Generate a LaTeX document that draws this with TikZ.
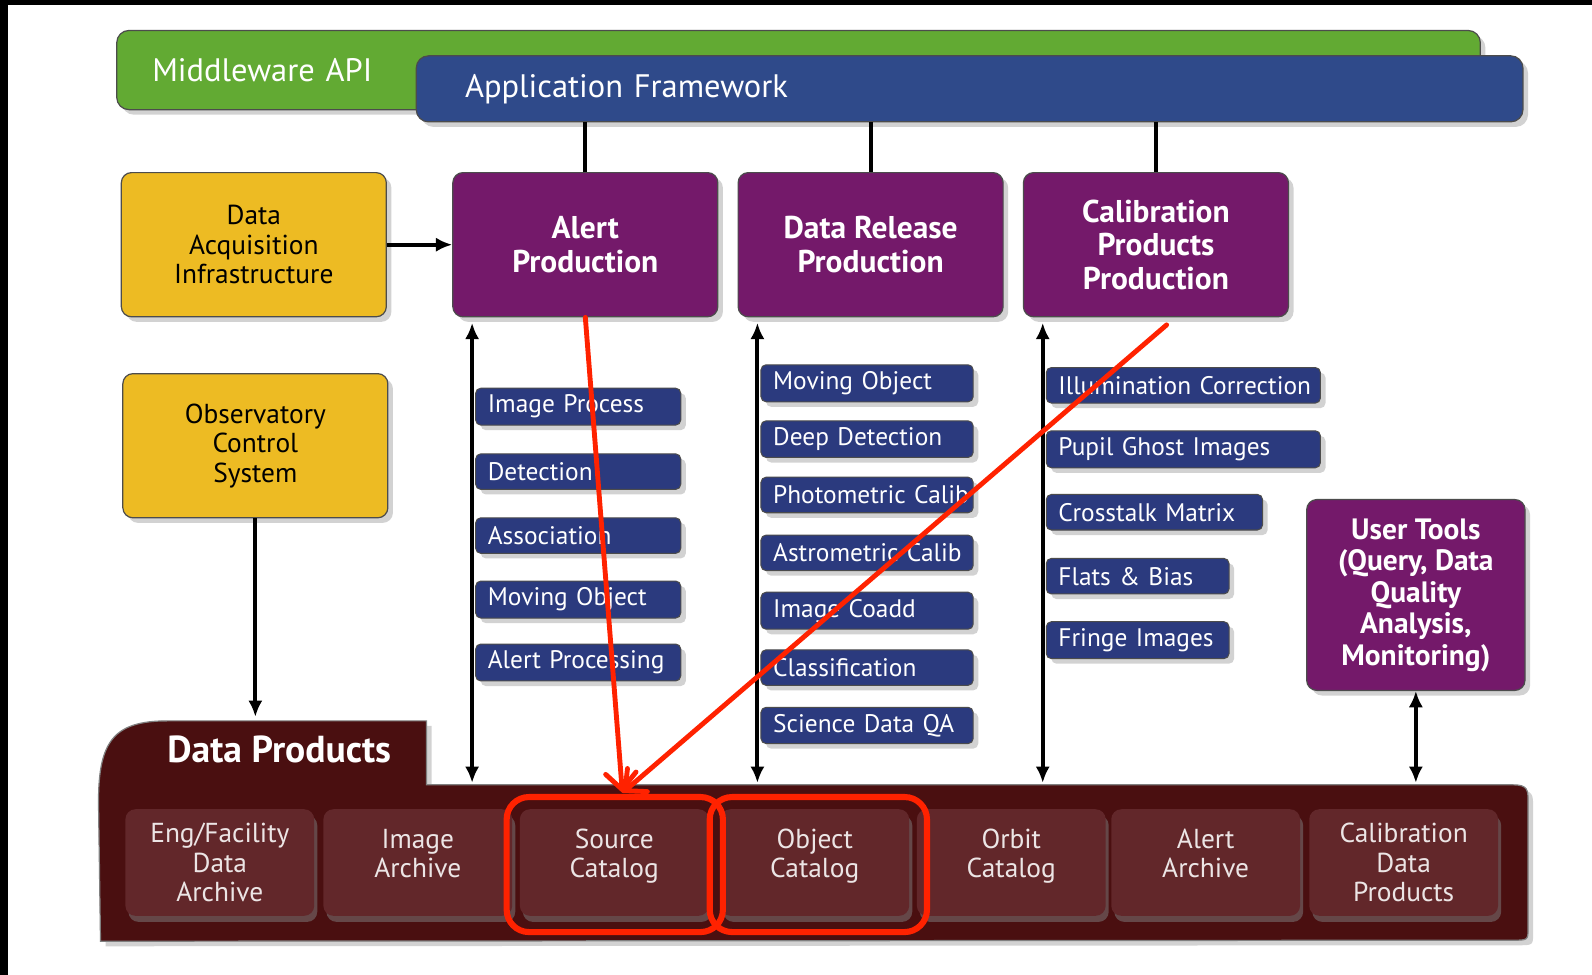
\documentclass[tikz,border=0pt]{standalone}
\usepackage{fontspec}
\setmainfont{PT Sans}
\usetikzlibrary{positioning,arrows.meta,shadows}
\definecolor{mwgreen}{HTML}{62AA33}
\definecolor{fwblue}{HTML}{2F4A8A}
\definecolor{prodpurple}{HTML}{74196A}
\definecolor{infoyellow}{HTML}{EDBB23}
\definecolor{stepblue}{HTML}{2B3A7E}
\definecolor{dpdark}{HTML}{4A0F10}
\definecolor{dpcell}{HTML}{62272A}
\definecolor{markred}{HTML}{FF2200}
\tikzset{
  dropped/.style={drop shadow={opacity=0.35, shadow xshift=2.5pt, shadow yshift=-2.5pt}},
  layer/.style={draw=black!70, line width=0.6pt, rounded corners=6pt, dropped,
    text=white, font=\fontsize{16}{18}\selectfont, align=left, minimum width=0pt
  },
  prod/.style={draw=black!70, line width=0.6pt, fill=prodpurple, rounded corners=5pt,
    dropped, text=white, font=\bfseries\fontsize{15.5}{16.5}\selectfont, align=center,
    minimum width=130.5pt, minimum height=71pt
  },
  infra/.style={prod, fill=infoyellow, text=black, font=\fontsize{13.5}{14.5}\selectfont},
  stepbox/.style={draw=black!70, line width=0.5pt, fill=stepblue, rounded corners=2.5pt,
    dropped, text=white, font=\fontsize{12.5}{13}\selectfont, anchor=west,
    minimum height=17.5pt, inner xsep=6pt, text width=#1, align=left
  },
  catbox/.style={fill=dpcell, rounded corners=5pt,
    drop shadow={opacity=0.5, shadow xshift=1.5pt, shadow yshift=-3pt},
    text=white!88!dpcell, font=\fontsize{13.5}{14.5}\selectfont, align=center,
    minimum width=93pt, minimum height=52.5pt
  },
  lifted/.style={text depth=9pt},
  ring/.style={draw=markred, line width=3pt, rounded corners=11pt},
  link/.style={line width=2pt},
  arrow/.style={-{Latex[length=8pt,width=7pt]}, line width=2pt},
  twoway/.style={{Latex[length=8pt,width=7pt]}-{Latex[length=8pt,width=7pt]}, line width=2pt},
  markline/.style={-{Straight Barb[length=8pt,width=15pt,line cap=round]}, draw=markred,
    line width=2.4pt, line cap=round
  }
}

\begin{document}
\begin{tikzpicture}[x=0.5pt, y=-0.5pt]
 \useasboundingbox (0,0) rectangle (1568,960);
 \fill[white] (0,0) rectangle (1568,960);
 \fill[black] (0,0) rectangle (1568,5);
 \fill[black] (0,0) rectangle (8,960);

 % framework layers
 \node[layer, fill=mwgreen, minimum height=39pt, inner xsep=17.5pt, text width=636.5pt] (mw) at (786.5,69) {Middleware API};
 \node[layer, fill=fwblue, minimum height=32.5pt, inner xsep=24pt, text width=497pt] (fw) at (955,87.5) {Application Framework};

 % productions and infrastructure
 \node[prod] (alert) at (576.5,241) {Alert\\Production};
 \node[prod] (release) at (857.5,241) {Data Release\\Production};
 \node[prod] (calib) at (1138.5,241) {Calibration\\Products\\Production};
 \node[infra] (dai) at (250,241) {Data\\Acquisition\\Infrastructure};
 \node[infra] (ocs) at (251.5,439) {Observatory\\Control\\System};
 \node[prod, minimum width=107.5pt, minimum height=94pt, font=\bfseries\fontsize{14.5}{15.5}\selectfont] (tools) at (1394.5,586) {User Tools\\(Query, Data\\Quality\\Analysis,\\Monitoring)};

 \foreach \n in {alert, release, calib}
   \draw[link] (\n.north) -- (\n.north |- fw.south);
 \draw[arrow] (dai) -- (alert);

 % data products
 \draw[dropped, fill=dpdark, draw=black!50, line width=0.6pt] (99,927) -- (97,790)
   .. controls (97,730) and (112,710) .. (165,710) -- (420,710) -- (420,773) -- (1490,773)
   .. controls (1505,773) and (1505,778) .. (1505,790) -- (1505,914)
   .. controls (1505,926) .. (1490,926) -- cycle;
 \node[font=\bfseries\fontsize{18.5}{20}\selectfont, text=white] (dptitle) at (275,738) {Data Products};
 \coordinate (tabtop) at (0,706);
 \coordinate (dpbody) at (0,771);

 \node[catbox] (eng) at (216.5,849.5) {Eng/Facility\\Data\\Archive};
 \node[catbox, lifted] (imgarch) at (411.5,849.5) {Image\\Archive};
 \node[catbox, lifted] (srccat) at (605,849.5) {Source\\Catalog};
 \node[catbox, lifted] (objcat) at (802.5,849.5) {Object\\Catalog};
 \node[catbox, lifted] (orbcat) at (996,849.5) {Orbit\\Catalog};
 \node[catbox, lifted] (alertarch) at (1187.5,849.5) {Alert\\Archive};
 \node[catbox] (calibdata) at (1382.5,849.5) {Calibration\\Data\\Products};

 \draw[arrow] (ocs.south) -- (ocs.south |- tabtop);
 \draw[twoway] (tools.south) -- (tools.south |- dpbody);

 % pipeline steps
 \coordinate (apline) at (465,318);
 \coordinate (drline) at (746,318);
 \coordinate (cpline) at (1027,318);
 \foreach \c in {apline, drline, cpline}
   \draw[twoway] (\c) -- (\c |- dpbody);

 \foreach \y/\txt [count=\i] in {400.5/Image Process, 464.5/Detection, 527.5/Association, 590.5/Moving Object, 652.5/Alert Processing}
   \node[stepbox=89pt] (ap\i) at (468,\y) {\mbox{\txt}};
 \foreach \y/\txt [count=\i] in {377.5/Moving Object, 432.5/Deep Detection, 487.5/Photometric Calib, 544.5/Astrometric Calib, 601.5/Image Coadd, 657.5/Classification, 714.5/Science Data QA}
   \node[stepbox=92.5pt] (dr\i) at (749,\y) {\mbox{\txt}};
 \foreach \y/\w/\txt [count=\i] in {379.5/123pt/Illumination Correction, 442.5/123pt/Pupil Ghost Images, 504.5/94.5pt/Crosstalk Matrix, 567.5/78pt/Flats \& Bias, 630.5/78pt/Fringe Images}
   \node[stepbox=\w] (cp\i) at (1030,\y) {\mbox{\txt}};

 % red marks
 \node[ring, minimum width=106.5pt, minimum height=66.5pt] (srcring) at (605.5,851.5) {};
 \node[ring, minimum width=107pt, minimum height=66.5pt] (objring) at (806,851.5) {};
 \coordinate (hit) at (613,781);
 \coordinate (calibout) at (1149,320);
 \draw[markline] (alert.south) -- (hit);
 \draw[markline] (calibout) -- (hit);

\end{tikzpicture}
\end{document}
